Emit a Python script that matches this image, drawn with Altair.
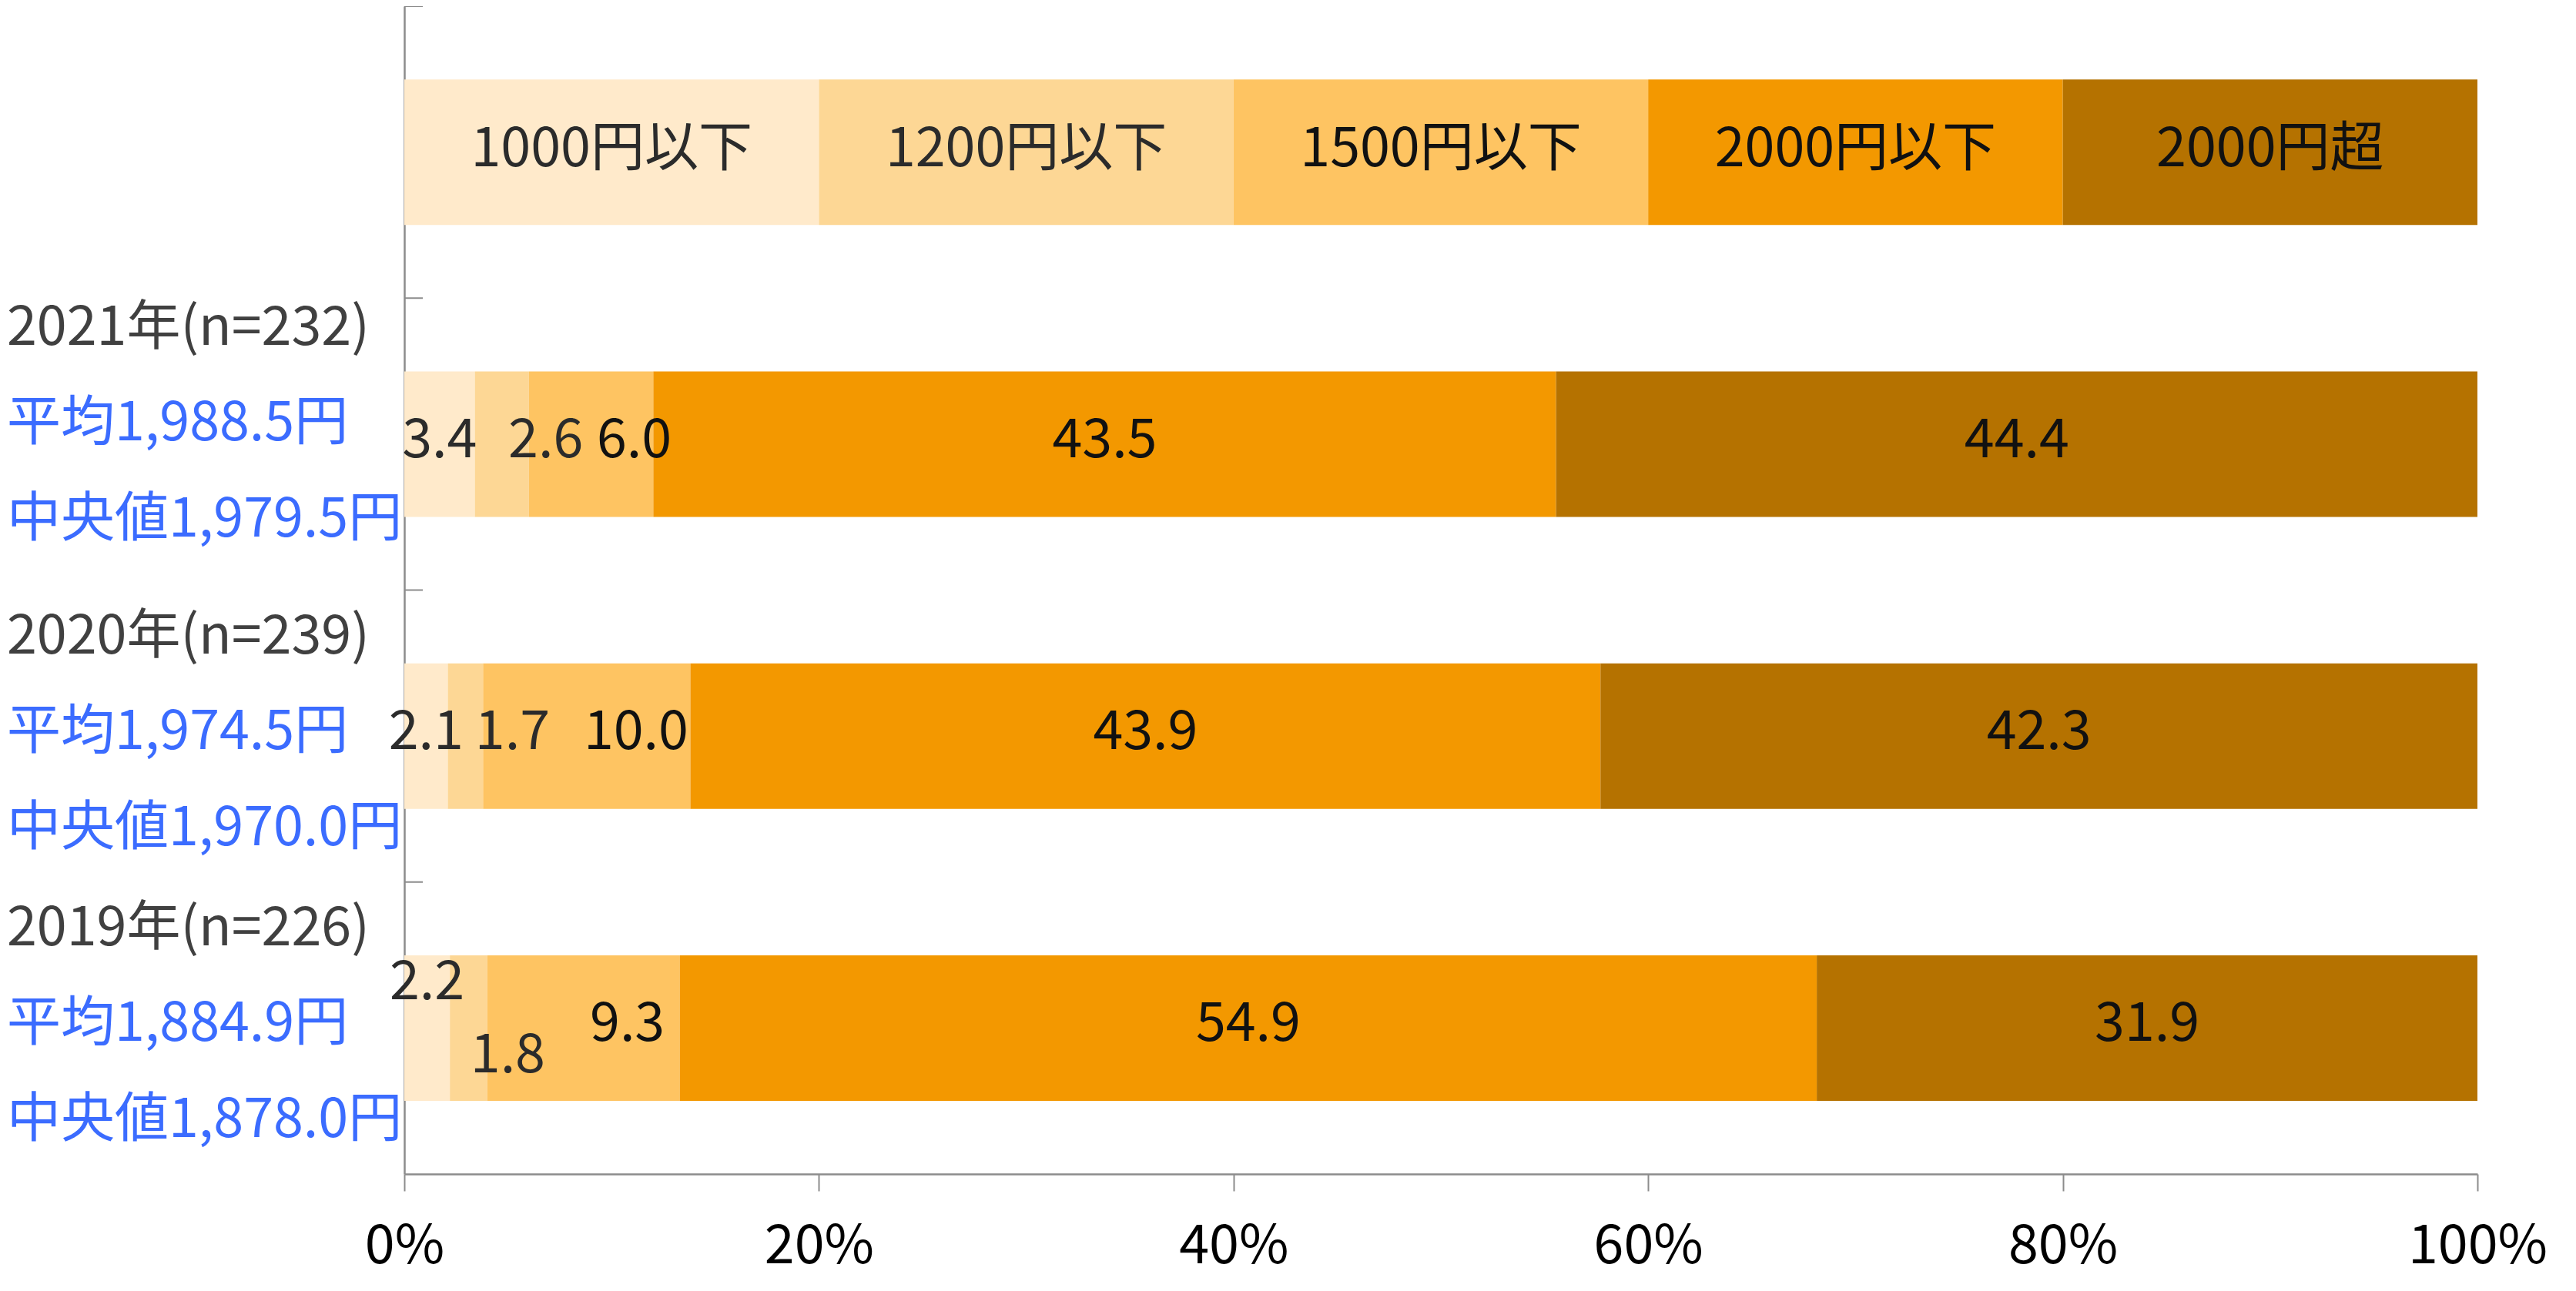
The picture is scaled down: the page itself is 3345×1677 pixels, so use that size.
import altair as alt
import pandas as pd

FONT = "Noto Sans CJK JP"

# ---------------- data ----------------
rows = ["凡例", "2021年", "2020年", "2019年"]
segments = ["1000円以下", "1200円以下", "1500円以下", "2000円以下", "2000円超"]
colors = ["#FFEACB", "#FDD795", "#FEC462", "#F39800", "#B57200"]

legend_values = [20, 20, 20, 20, 20]
values_2021 = [3.4, 2.6, 6.0, 43.5, 44.4]
values_2020 = [2.1, 1.7, 10.0, 43.9, 42.3]
values_2019 = [2.2, 1.8, 9.3, 54.9, 31.9]

year_labels = ["2021年(n=232)", "2020年(n=239)", "2019年(n=226)"]
mean_labels = ["平均1,988.5円", "平均1,974.5円", "平均1,884.9円"]
median_labels = ["中央値1,979.5円", "中央値1,970.0円", "中央値1,878.0円"]

x_ticks = [0, 0.2, 0.4, 0.6, 0.8, 1.0]

# ---------------- layout (pixels) ----------------
PLOT_W = 2692
PLOT_H = 1517
PAD_L = 517
FS = 70
BAR_SIZE = 189
HALF_BAND = PLOT_H / len(rows) / 2

# manual label nudges (pixels), per row, per segment
label_dx = {
    "凡例": [0, 0, 0, 0, 0],
    "2021年": [0, 57, 56, 0, 0],
    "2020年": [0, 61, 64, 0, 0],
    "2019年": [0, 51, 57, 0, 0],
}
label_dy = {
    "凡例": [-3, -3, -3, -3, -3],
    "2021年": [-4, -4, -4, -4, -4],
    "2020年": [-4, -4, -4, -4, -4],
    "2019年": [-58, 37, -4, -4, -4],
}
left_shift = [-22, 0, 0]

# ---------------- tables ----------------
series = {"凡例": legend_values, "2021年": values_2021, "2020年": values_2020, "2019年": values_2019}
recs = []
for r in rows:
    for i, s in enumerate(segments):
        v = series[r][i]
        recs.append({
            "row": r,
            "segment": s,
            "order": i,
            "value": v,
            "label": s if r == "凡例" else f"{v:.1f}",
            "dxf": label_dx[r][i] / PLOT_W,
            "dy": label_dy[r][i] + HALF_BAND,
        })
df = pd.DataFrame(recs)

left_df = pd.DataFrame({
    "row": rows[1:],
    "year": year_labels,
    "mean": mean_labels,
    "median": median_labels,
    "shift": [s + HALF_BAND for s in left_shift],
})
tick_df = pd.DataFrame({"row": rows})

yscale = alt.Scale(domain=rows, paddingInner=0, paddingOuter=0)
xscale = alt.Scale(domain=[0, 1], nice=False, zero=True)

y_enc = alt.Y("row:N", scale=yscale, sort=rows,
              axis=alt.Axis(labels=False, ticks=False, title=None, domainColor="#8C8C8C",
                            domainWidth=2.5, grid=False))

bars = alt.Chart(df).mark_bar(size=BAR_SIZE).encode(
    y=y_enc,
    x=alt.X("value:Q", stack="normalize", scale=xscale,
            axis=alt.Axis(values=x_ticks, format=".0%", title=None, grid=False,
                          domainColor="#8C8C8C", domainWidth=2.5, tickColor="#8C8C8C",
                          tickWidth=2, tickSize=22, labelFont=FONT, labelFontSize=FS,
                          labelColor="#000000", labelPadding=38, labelFlush=False,
                          labelLimit=1000, labelOverlap=False)),
    color=alt.Color("segment:N", scale=alt.Scale(domain=segments, range=colors), legend=None),
    order=alt.Order("order:Q"),
)

ticks = alt.Chart(tick_df).mark_rule(color="#8C8C8C", strokeWidth=2).encode(
    y=alt.Y("row:N", scale=yscale, sort=rows, bandPosition=0),
    x=alt.value(0),
    x2=alt.value(24),
)

labels = alt.Chart(df).transform_stack(
    stack="value", groupby=["row"], as_=["x0", "x1"],
    sort=[alt.SortField("order", "ascending")], offset="normalize",
).transform_calculate(
    mid="(datum.x0 + datum.x1) / 2 + datum.dxf"
).mark_text(font=FONT, fontSize=FS, baseline="middle", align="center").encode(
    y=alt.Y("row:N", scale=yscale, sort=rows),
    x=alt.X("mid:Q", scale=xscale),
    yOffset=alt.YOffset("dy:Q", scale=None),
    text="label:N",
    color=alt.condition("datum.order < 2", alt.value("#2B2B2B"), alt.value("#111111")),
)

LEFT_X = 9 - (PAD_L + 8)


def left_layer(field, dy, color):
    return alt.Chart(left_df).mark_text(
        font=FONT, fontSize=FS, color=color, align="left", baseline="middle", dy=dy
    ).encode(
        y=alt.Y("row:N", scale=yscale, sort=rows),
        x=alt.value(LEFT_X),
        yOffset=alt.YOffset("shift:Q", scale=None),
        text=f"{field}:N",
    )


year_t = left_layer("year", -128, "#404040")
mean_t = left_layer("mean", -4, "#3B6CFF")
median_t = left_layer("median", 121, "#3B6CFF")

chart = alt.layer(bars, ticks, labels, year_t, mean_t, median_t).properties(
    width=PLOT_W,
    height=PLOT_H,
    padding={"left": PAD_L, "top": 0, "right": 110, "bottom": 140},
    autosize=alt.AutoSizeParams(type="none"),
    background="white",
).configure_view(stroke=None)

chart.save("out.html", embed_options={"renderer": "svg", "actions": False})
